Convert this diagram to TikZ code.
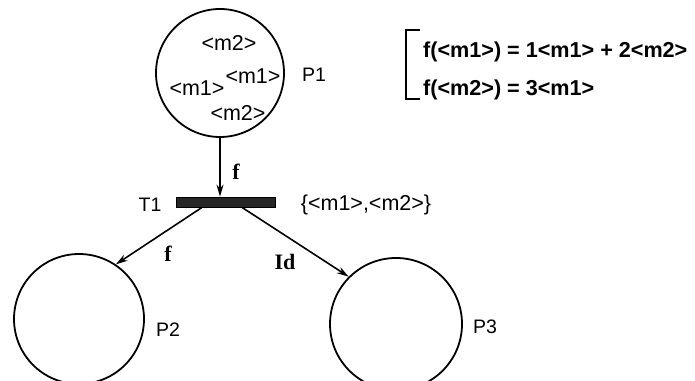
\documentclass[tikz,border=0pt]{standalone}
\usepackage{fontspec}
\setmainfont{Liberation Serif}
\setsansfont{Liberation Sans}
\usetikzlibrary{arrows.meta,positioning,calc}
\tikzset{
  >={Stealth[length=12pt,width=7pt]},
  every node/.style={font=\sffamily\fontsize{21}{24}\selectfont},
  place/.style={draw=black,line width=1.8pt,circle,inner sep=0pt},
  trans/.style={draw=black,fill=black!85,line width=0.8pt,inner sep=0pt,
                minimum width=99pt,minimum height=10pt},
  tok/.style={inner sep=0pt,font=\sffamily\fontsize{21.5}{24}\selectfont},
  lbl/.style={inner sep=0pt,font=\sffamily\fontsize{19.5}{24}\selectfont},
  fn/.style={inner sep=0pt,font=\rmfamily\bfseries\fontsize{22}{24}\selectfont},
  eqn/.style={inner sep=0pt,anchor=west,font=\sffamily\bfseries\fontsize{21.6}{24}\selectfont},
  arc/.style={->,line width=1.6pt},
  bracket/.style={line width=2.8pt},
}
\begin{document}
\begin{tikzpicture}[x=1pt,y=1pt]
  \useasboundingbox (0,0) rectangle (695,380);

  % places and transition
  \node[place,minimum size=128pt] (p1) at (220,307) {};
  \node[trans] (t1) at (226,178) {};
  \node[place,minimum size=130pt] (p2) at (79,61) {};
  \node[place,minimum size=132pt] (p3) at (396,56) {};

  % tokens in P1
  \node[tok] (k1) at (229,337) {<m2>};
  \node[tok] (k2) at (197,292) {<m1>};
  \node[tok] (k3) at (253,304) {<m1>};
  \node[tok] (k4) at (238,267) {<m2>};

  % labels
  \node[lbl] (l1) at (314,305) {P1};
  \node[lbl] (lt) at (150,175) {T1};
  \node[lbl] (l2) at (168,50)  {P2};
  \node[lbl] (l3) at (485,53)  {P3};
  \node[tok] (col) at (366,175) {\{<m1>,<m2>\}};

  % arcs
  \coordinate (tl) at ([xshift=-24pt]t1.south);
  \coordinate (tr) at ([xshift=16pt]t1.south);
  \draw[arc] (p1) -- (p1 |- t1.north);
  \draw[arc] (tl) -- (p2.56);
  \draw[arc] (tr) -- (p3.135);
  \node[fn] (f1) at (236,208) {f};
  \node[fn] (f2) at (168,126) {f};
  \node[fn] (fid) at (285,118) {Id};

  % function definition
  \node[eqn] (eq1) at (423,328) {f(<m1>) = 1<m1> + 2<m2>};
  \node[eqn] (eq2) at (423,290) {f(<m2>) = 3<m1>};
  \coordinate (brtop) at (420,350);
  \coordinate (brbot) at (420,281);
  \draw[bracket] (brtop) -- ++(-14,0) |- (brbot);
\end{tikzpicture}
\end{document}
